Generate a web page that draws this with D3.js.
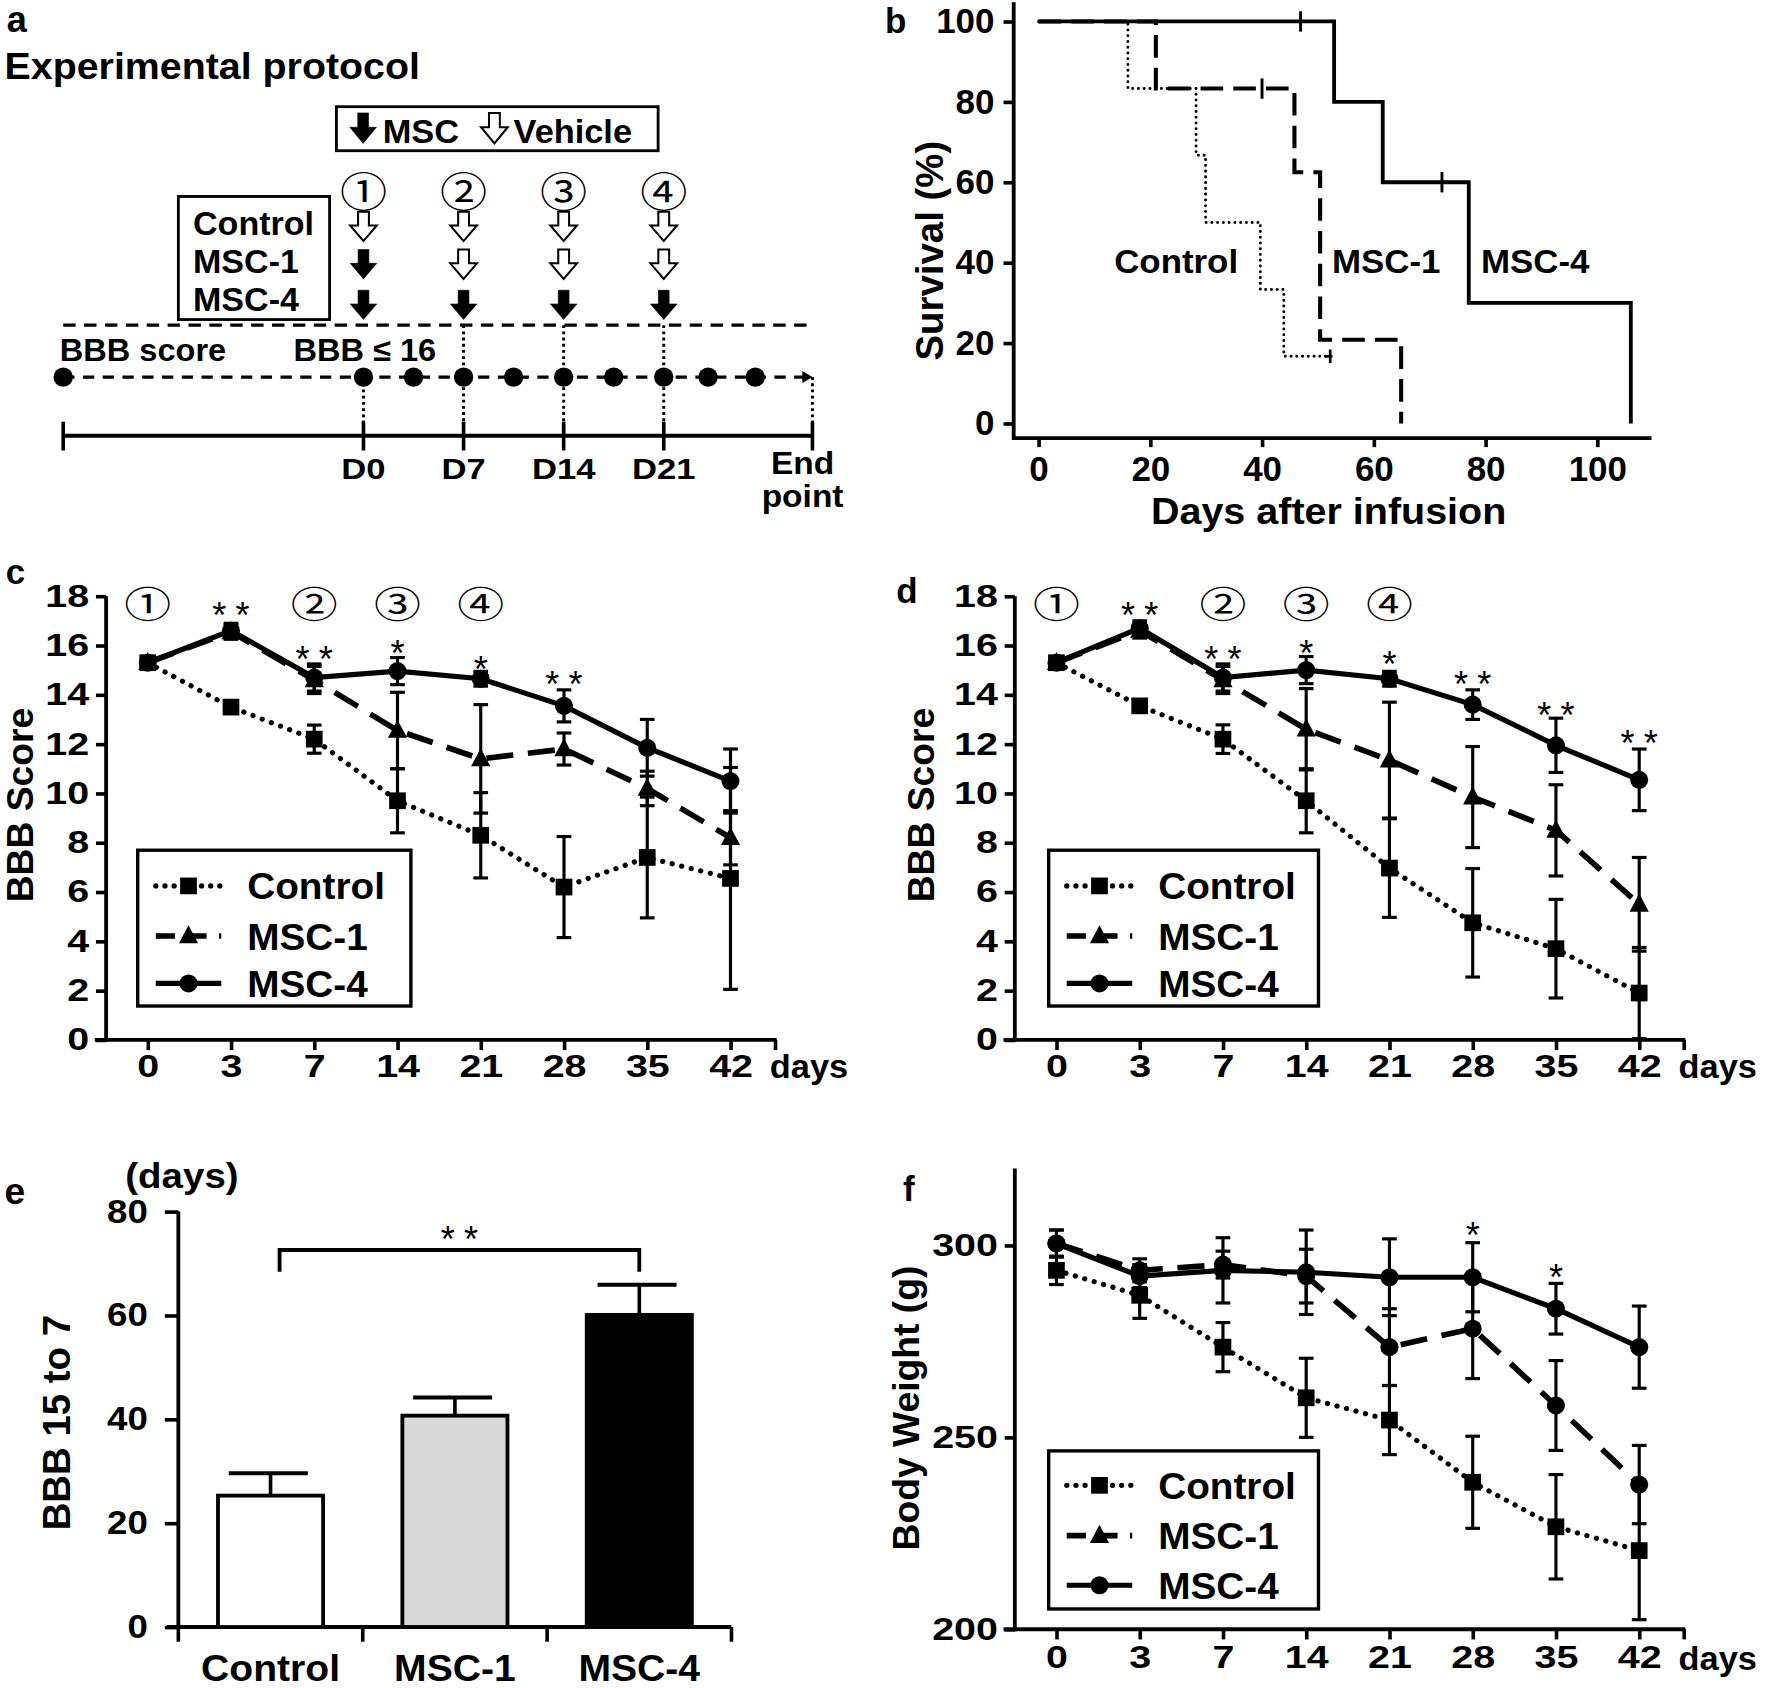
<!DOCTYPE html>
<html><head><meta charset="utf-8">
<script src="https://cdn.jsdelivr.net/npm/d3@7"></script>
<style>body{margin:0;background:#fff}svg{display:block}</style>
</head><body>
<svg id="fig"></svg>
<script>
// ---------------- DATA ----------------
const days = ["0","3","7","14","21","28","35","42"];
const groups = ["Control","MSC-1","MSC-4"];
const circled = ["①","②","③","④"];

// panel a (schematic)
const injDays = [0,7,14,21];
const injLabels = ["D0","D7","D14","D21"];
const rowControl = ["open","open","open","open"];
const rowMSC1 = ["fill","open","open","open"];
const rowMSC4 = ["fill","fill","fill","fill"];
const bbbDays = [-21,0,3.5,7,10.5,14,17.5,21,24.1,27.4];

// panel b (Kaplan-Meier steps: [day, survival %])
const kmControl = [[0,100],[16,83.3],[28.2,66.7],[29.9,50],[39.7,33.3],[43.9,16.7],[52.2,16.7]];
const kmMSC1 = [[0,100],[21,83.3],[45.8,62.5],[50.4,20.8],[64.9,0]];
const kmMSC4 = [[0,100],[52.9,80],[61.6,60],[77,30],[106,0]];
const censorControl = [[52.2,16.7]];
const censorMSC1 = [[40,83.3]];
const censorMSC4 = [[46.9,100],[72.2,60]];
const survTicks = [0,20,40,60,80,100];
const dayTicksB = [0,20,40,60,80,100];

// panel c (BBB score)
const cControl = [15.3,13.5,12.2,9.7,8.3,6.2,7.4,6.55];
const cControlErr = [0.2,0.2,0.57,1.3,1.73,2.05,2.45,4.5];
const cMSC1 = [15.3,16.55,14.6,12.55,11.4,11.8,10.2,8.2];
const cMSC1Err = [0.2,0.3,0.55,1.55,2.2,0.65,0.7,1.1];
const cMSC4 = [15.3,16.6,14.7,14.96,14.65,13.55,11.85,10.5];
const cMSC4Err = [0.2,0.3,0.55,0.55,0.3,0.65,1.15,1.3];
const cStars = [["3","**",17.6],["7","**",15.8],["14","*",16.05],["21","*",15.4],["28","**",14.8]];

// panel d
const dControl = [15.3,13.55,12.2,9.7,6.97,4.75,3.7,1.9];
const dControlErr = [0.2,0.2,0.58,1.3,2.0,2.2,2.0,1.85];
const dMSC1 = [15.3,16.6,14.6,12.6,11.35,9.85,8.5,5.5];
const dMSC1Err = [0.2,0.3,0.55,1.65,2.35,2.05,1.85,1.9];
const dMSC4 = [15.3,16.7,14.7,15.0,14.65,13.6,11.95,10.55];
const dMSC4Err = [0.2,0.3,0.55,0.55,0.3,0.6,1.1,1.25];
const dStars = [["3","**",17.6],["7","**",15.8],["14","*",16.05],["21","*",15.6],["28","**",14.8],["35","**",13.55],["42","**",12.4]];
const bbbTicks = [0,2,4,6,8,10,12,14,16,18];

// panel e
const eValues = [25.3,40.7,60.1];
const eErr = [4.3,3.5,5.8];
const eTicks = [0,20,40,60,80];

// panel f (body weight)
const fControl = [293.5,287,273.5,260.3,254.5,238.3,226.7,220.5];
const fControlErr = [3.7,6,6.4,10.3,9,12,13.6,18];
const fMSC1 = [300.5,293.5,295,292,273.5,278.3,258.3,237.7];
const fMSC1Err = [3.5,3,3.5,7,10,13,11.7,10.2];
const fMSC4 = [300.5,292,293.5,293,291.7,291.7,283.5,273.5];
const fMSC4Err = [3.5,3,8.5,11,10,9,6.6,10.7];
const fStars = [["28","*",305],["35","*",294]];
const bwTicks = [200,250,300];

// ---------------- DRAWING ----------------
const W = 1568, H = 1495;
const FONT = "'Liberation Sans', Arial, Helvetica, sans-serif";
const CIRC = "'Noto Sans CJK JP', 'DejaVu Sans', sans-serif";
const svg = d3.select("#fig").attr("width",1770).attr("height",1688)
  .attr("viewBox",`0 0 ${W} ${H}`).attr("preserveAspectRatio","none")
  .style("font-family",FONT);
svg.append("rect").attr("width",W).attr("height",H).attr("fill","#fff");

function txt(g,x,y,s,o={}){
  const t = g.append("text").attr("x",x).attr("y",y).text(s)
    .attr("font-size",o.size||30).attr("font-weight",o.weight||"bold")
    .attr("text-anchor",o.anchor||"start").attr("fill","#000");
  if(o.family) t.attr("font-family",o.family);
  if(o.rot) t.attr("transform",`rotate(-90,${x},${y})`);
  else if(o.sx) t.attr("transform",`translate(${x},${y}) scale(${o.sx},1) translate(${-x},${-y})`);
  return t;
}
function line(g,x1,y1,x2,y2,w,dash,cap){
  const l=g.append("line").attr("x1",x1).attr("y1",y1).attr("x2",x2).attr("y2",y2)
    .attr("stroke","#000").attr("stroke-width",w||3);
  if(dash) l.attr("stroke-dasharray",dash);
  if(cap) l.attr("stroke-linecap",cap);
  return l;
}
function styleAxis(ax,size,sx){
  ax.select(".domain").remove();
  ax.selectAll(".tick line").attr("stroke","#000").attr("stroke-width",3.2);
  ax.selectAll(".tick text").attr("font-size",size).attr("font-weight","bold")
    .attr("font-family",FONT).attr("fill","#000")
    .each(function(){
      if(!sx||sx===1) return;
      const x = +d3.select(this).attr("x")||0;
      d3.select(this).attr("transform",`translate(${x},0) scale(${sx},1) translate(${-x},0)`);
    });
}
function stars(g,x,yc,s,size){
  const n=s.length, sp=20.6;
  for(let i=0;i<n;i++){
    const cx = x + (i-(n-1)/2)*sp;
    txt(g,cx,yc+0.6*size,"*",{size:size,weight:"normal",anchor:"middle"});
  }
}
const seriesStyle = {
  "Control":{dash:"0.1 8.6",cap:"round",w:4.6,marker:"square"},
  "MSC-1":{dash:"24 13",cap:"butt",w:5,marker:"triangle"},
  "MSC-4":{dash:null,cap:"butt",w:4.6,marker:"circle"}
};
function marker(g,type,x,y){
  if(type==="square") g.append("rect").attr("x",x-7.4).attr("y",y-7.4).attr("width",14.8).attr("height",14.8).attr("fill","#000");
  else if(type==="circle") g.append("circle").attr("cx",x).attr("cy",y).attr("r",8).attr("fill","#000");
  else g.append("path").attr("d",`M${x},${y-9.5}L${x+8.5},${y+6.5}L${x-8.5},${y+6.5}Z`).attr("fill","#000");
}

// ---------- panel a ----------
(function(){
  const g = svg.append("g");
  const xA = d3.scaleLinear([0,21],[322,588]);
  txt(g,6,28,"a",{size:32});
  txt(g,4,70,"Experimental protocol",{size:32,sx:1.09});
  g.append("rect").attr("x",298).attr("y",94.5).attr("width",285).attr("height",39).attr("fill","none").attr("stroke","#000").attr("stroke-width",2.5);
  function arrow(cx,top,type,h){
    h = h||25.5;
    const sw=9.6, hw=23.6, sh=h*0.47;
    const p = `M${cx-sw/2},${top}L${cx+sw/2},${top}L${cx+sw/2},${top+sh}L${cx+hw/2},${top+sh}L${cx},${top+h}L${cx-hw/2},${top+sh}L${cx-sw/2},${top+sh}Z`;
    g.append("path").attr("d",p).attr("fill",type==="fill"?"#000":"#fff").attr("stroke","#000")
      .attr("stroke-width",type==="fill"?0.5:1.8).attr("stroke-linejoin","miter");
  }
  arrow(321.7,100,"fill",27);
  txt(g,339,127,"MSC",{size:29,sx:1.05});
  arrow(438,100,"open",27);
  txt(g,455,127,"Vehicle",{size:29,sx:1.05});
  injDays.forEach((d,i)=>txt(g,xA(d),183,circled[i],{size:36,anchor:"middle",family:CIRC,weight:"normal",sx:1.16}));
  g.append("rect").attr("x",158).attr("y",174).attr("width",134).attr("height",109).attr("fill","none").attr("stroke","#000").attr("stroke-width",2.5);
  txt(g,171,208,"Control",{size:29,sx:1.04});
  txt(g,171,241.5,"MSC-1",{size:29,sx:1.04});
  txt(g,171,275.5,"MSC-4",{size:29,sx:1.04});
  const rows=[[rowControl,187.5],[rowMSC1,221],[rowMSC4,257]];
  rows.forEach(([r,top])=>r.forEach((t,i)=>arrow(xA(injDays[i]),top,t,26)));
  line(g,56,288,722,288,2.8,"11 7.5");
  txt(g,53,320,"BBB score",{size:28,sx:1.03});
  txt(g,260,320,"BBB \u2264 16",{size:28,sx:1.03});
  [7,14,21].forEach(d=>line(g,xA(d),288,xA(d),386,2.6,"2.5 3"));
  line(g,xA(0),334,xA(0),386,2.6,"2.5 3");
  line(g,xA(31.4),334,xA(31.4),386,2.6,"2.5 3");
  line(g,56,334,712,334,2.8,"10 7.5");
  g.append("path").attr("d",`M${xA(31.4)},334L${xA(31.4)-9},328.5L${xA(31.4)-9},339.5Z`).attr("fill","#000");
  bbbDays.forEach(d=>g.append("circle").attr("cx",xA(d)).attr("cy",334).attr("r",8.6).attr("fill","#000"));
  line(g,xA(-21),386,xA(31.4),386,3.6);
  [-21,0,7,14,21,31.4].forEach(d=>line(g,xA(d),373.5,xA(d),399,3.2));
  injDays.forEach((d,i)=>txt(g,xA(d),424,injLabels[i],{size:26,anchor:"middle",sx:1.18}));
  txt(g,711,420,"End",{size:27,anchor:"middle",sx:1.1});
  txt(g,711,449,"point",{size:27,anchor:"middle",sx:1.1});
})();

// ---------- panel b ----------
(function(){
  const g = svg.append("g");
  const xB = d3.scaleLinear([0,100],[920,1415]);
  const yB = d3.scaleLinear([0,100],[375,19]);
  txt(g,784,29,"b",{size:31});
  const ay = g.append("g").attr("transform","translate(898,0)")
    .call(d3.axisLeft(yB).tickValues(survTicks).tickSize(9).tickPadding(8));
  styleAxis(ay,31);
  const ax = g.append("g").attr("transform","translate(0,388)")
    .call(d3.axisBottom(xB).tickValues(dayTicksB).tickSize(8).tickPadding(8));
  styleAxis(ax,31);
  line(g,898,2,898,389.5,3.4);
  line(g,896.5,388,1463,388,3.4);
  txt(g,1177,464,"Days after infusion",{size:33,anchor:"middle",sx:1.06});
  txt(g,835,222,"Survival (%)",{size:34,anchor:"middle",rot:true});
  const lg = d3.line().x(d=>xB(d[0])).y(d=>yB(d[1])).curve(d3.curveStepAfter);
  g.append("path").attr("d",lg(kmControl)).attr("fill","none").attr("stroke","#000").attr("stroke-width",2.6).attr("stroke-dasharray","0.1 5").attr("stroke-linecap","round");
  g.append("path").attr("d",lg(kmMSC1)).attr("fill","none").attr("stroke","#000").attr("stroke-width",3.6).attr("stroke-dasharray","20 9");
  g.append("path").attr("d",lg(kmMSC4)).attr("fill","none").attr("stroke","#000").attr("stroke-width",3.4);
  censorMSC4.forEach(d=>line(g,xB(d[0]),yB(d[1])-9,xB(d[0]),yB(d[1])+9,2.6));
  censorMSC1.forEach(d=>line(g,xB(d[0]),yB(d[1])-9,xB(d[0]),yB(d[1])+9,2.6));
  censorControl.forEach(d=>{line(g,xB(d[0]),yB(d[1])-6,xB(d[0]),yB(d[1])+6,2.4);line(g,xB(d[0])-5,yB(d[1]),xB(d[0])+2,yB(d[1]),2.4);});
  txt(g,987,242,"Control",{size:30,sx:1.03});
  txt(g,1180,242,"MSC-1",{size:30,sx:1.03});
  txt(g,1312,242,"MSC-4",{size:30,sx:1.03});
})();

// ---------- line panels c, d, f ----------
const TF = 27.5, TSX = 1.27;
function linePanel(o){
  const g = svg.append("g");
  const x = d3.scalePoint(days,[o.x0,o.x0+590]).padding(0.5);
  const y = d3.scaleLinear(o.ydom,o.yrange);
  txt(g,o.letter[1],o.letter[2],o.letter[0],{size:31});
  const ay = g.append("g").attr("transform",`translate(${o.x0},0)`)
    .call(d3.axisLeft(y).tickValues(o.yticks).tickSize(9).tickPadding(6));
  styleAxis(ay,TF,TSX);
  const ax = g.append("g").attr("transform",`translate(0,${o.yrange[0]})`)
    .call(d3.axisBottom(x).tickSize(9).tickPadding(o.xpad||4));
  styleAxis(ax,TF,TSX);
  line(g,o.x0,o.ytop,o.x0,o.yrange[0]+1.7,3.4);
  line(g,o.x0-10,o.yrange[0],o.x0+594,o.yrange[0],3.4);
  line(g,o.x0+593,o.yrange[0],o.x0+593,o.yrange[0]+9,3.2);
  txt(g,o.x0+588,o.yrange[0]+(o.dayy||34),"days",{size:29,sx:1.05});
  txt(g,o.ylab[1],o.ylab[2],o.ylab[0],{size:33,anchor:"middle",rot:true});
  const series = [["Control",o.data[0],o.err[0]],["MSC-1",o.data[1],o.err[1]],["MSC-4",o.data[2],o.err[2]]];
  const lg = d3.line().x((d,i)=>x(days[i])).y(d=>y(d));
  series.forEach(([name,vals])=>{
    const st = seriesStyle[name];
    g.append("path").attr("d",lg(vals)).attr("fill","none").attr("stroke","#000")
      .attr("stroke-width",st.w).attr("stroke-dasharray",st.dash).attr("stroke-linecap",st.cap);
  });
  series.forEach(([name,vals,err])=>{
    vals.forEach((v,i)=>{
      const cx=x(days[i]), hi=y(v+err[i]), lo=y(Math.max(o.ydom[0],v-err[i]));
      line(g,cx,hi,cx,lo,2.8);
      line(g,cx-6.5,hi,cx+6.5,hi,2.8);
      if(v-err[i]>o.ydom[0]) line(g,cx-6.5,lo,cx+6.5,lo,2.8);
    });
  });
  series.forEach(([name,vals])=>{
    const m = (o.markers&&o.markers[name])||seriesStyle[name].marker;
    vals.forEach((v,i)=>marker(g,m,x(days[i]),y(v)));
  });
  if(o.circ) o.circ.forEach((d,i)=>txt(g,x(d),y(17.6)+11,circled[i],{size:32,anchor:"middle",family:CIRC,weight:"normal",sx:1.3}));
  o.stars.forEach(([d,s,v])=>stars(g,x(d),y(v),s,32));
  const L=o.legend;
  g.append("rect").attr("x",L.x).attr("y",L.y).attr("width",L.w).attr("height",L.h)
    .attr("fill","#fff").attr("stroke","#000").attr("stroke-width",3);
  groups.forEach((name,i)=>{
    const st=seriesStyle[name], cy=L.rows[i];
    line(g,L.x+16,cy,L.x+74,cy,st.w,name==="Control"?"0.1 8":(name==="MSC-1"?"17 11":null),st.cap);
    marker(g,st.marker,L.x+45,cy);
    txt(g,L.x+97,cy+12,name,{size:33,sx:1.04});
  });
  return g;
}

linePanel({x0:94,ydom:[0,18],yrange:[921,528],ytop:528,yticks:bbbTicks,letter:["c",5,517],
  ylab:["BBB Score",29,713],data:[cControl,cMSC1,cMSC4],err:[cControlErr,cMSC1Err,cMSC4Err],
  circ:["0","7","14","21"],stars:cStars,legend:{x:122,y:753,w:242,h:138,rows:[784.6,829,871]}});

linePanel({x0:899,ydom:[0,18],yrange:[921,528],ytop:528,yticks:bbbTicks,letter:["d",794,534],
  ylab:["BBB Score",827,713],data:[dControl,dMSC1,dMSC4],err:[dControlErr,dMSC1Err,dMSC4Err],
  circ:["0","7","14","21"],stars:dStars,legend:{x:929,y:753,w:239,h:138,rows:[784.6,829,871]}});

linePanel({x0:899,ydom:[200,300],yrange:[1443,1103],ytop:1035,yticks:bwTicks,letter:["f",800,1064],
  ylab:["Body Weight (g)",814,1247],data:[fControl,fMSC1,fMSC4],err:[fControlErr,fMSC1Err,fMSC4Err],
  markers:{"MSC-1":"circle"},stars:fStars,legend:{x:929,y:1285,w:239,h:140,rows:[1315.5,1360,1404]},xpad:6,dayy:36});

// ---------- panel e ----------
(function(){
  const g = svg.append("g");
  const x = d3.scaleBand(groups,[158,648]).paddingInner(0.43).paddingOuter(0.215);
  const y = d3.scaleLinear([0,80],[1441,1073]);
  txt(g,4,1066,"e",{size:33});
  txt(g,111,1052,"(days)",{size:31,sx:1.1});
  const ay = g.append("g").attr("transform","translate(158,0)")
    .call(d3.axisLeft(y).tickValues(eTicks).tickSize(12).tickPadding(15));
  styleAxis(ay,29,1.12);
  line(g,158,1073,158,1441,3.4);
  line(g,148,1441,648,1441,3.4);
  const bounds = [158, ...groups.map(d=>x(d)+x.bandwidth()+x.step()*x.paddingInner()/2)];
  bounds.forEach(b=>line(g,b,1441,b,1454,3.2));
  const fills=["#fff","#d9d9d9","#000"];
  groups.forEach((gname,i)=>{
    const cx = x(gname)+x.bandwidth()/2;
    line(g,cx,y(eValues[i]),cx,y(eValues[i]+eErr[i]),3.2);
    line(g,cx-37,y(eValues[i]+eErr[i]),cx+33,y(eValues[i]+eErr[i]),3.4);
    g.append("rect").attr("x",x(gname)).attr("y",y(eValues[i])).attr("width",x.bandwidth())
      .attr("height",y(0)-y(eValues[i])).attr("fill",fills[i]).attr("stroke","#000").attr("stroke-width",3.4);
    txt(g,cx,1489,gname,{size:33,anchor:"middle",sx:1.05});
  });
  txt(g,62,1260,"BBB 15 to 7",{size:34,anchor:"middle",rot:true});
  const bx1 = x("Control")+x.bandwidth()/2+8, bx2 = x("MSC-4")+x.bandwidth()/2;
  g.append("path").attr("d",`M${bx1},${y(68.4)}V${y(72.6)}H${bx2}V${y(68.4)}`).attr("fill","none").attr("stroke","#000").attr("stroke-width",3.4);
  stars(g,(bx1+bx2)/2,y(76.4),"**",32);
})();
</script>
</body></html>
